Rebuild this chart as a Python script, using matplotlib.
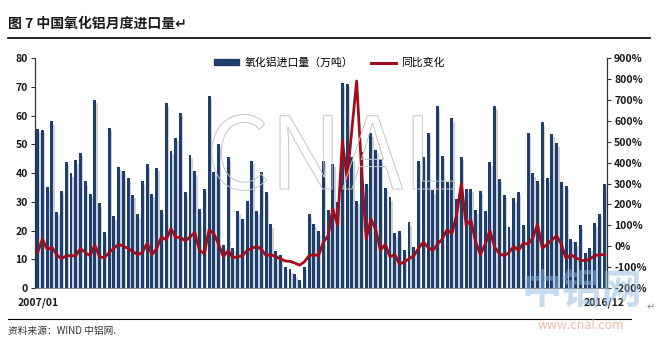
import numpy as np
import matplotlib
matplotlib.use("Agg")
import matplotlib.pyplot as plt
import matplotlib.patheffects as pe
from matplotlib.patches import Patch
from matplotlib.lines import Line2D
from matplotlib.ticker import FuncFormatter

plt.rcParams['font.family'] = ['Noto Sans CJK SC', 'DejaVu Sans']

# 2007/01 - 2016/12 monthly alumina imports (10k t)
imports = [55.3, 55, 35, 58, 26.5, 33.8, 43.8, 40, 44.5, 47, 37.2, 32.8,
           65.5, 29.5, 19.5, 55.8, 25, 42.2, 40.8, 38.2, 32.5, 25.6, 37.2, 43.3,
           32.8, 41.8, 27.2, 64.2, 47.8, 52.3, 61, 33.3, 46.3, 40.6, 27.5, 34.5,
           66.9, 40.5, 50.1, 15, 45.5, 14, 26.7, 24, 30.4, 44.3, 26.7, 40.3,
           33.5, 22.2, 12.8, 11.5, 7.5, 6.5, 5, 3, 7.5, 25.6, 22.3, 19.8,
           44.3, 27.2, 43.2, 29.9, 71.2, 71, 45.5, 30.4, 47.2, 36.2, 53.8, 48,
           44.9, 34.8, 31.6, 19.1, 19.8, 13.1, 22.9, 14.2, 44.3, 45.5, 54, 34,
           63.4, 46, 37, 59, 31, 45.7, 34.5, 34.5, 27, 33.9, 26.7, 43.8,
           63.4, 38, 32.5, 21.4, 31.3, 33.4, 22.1, 54, 39.9, 37.4, 57.6, 38.2,
           53.6, 50.3, 36.8, 35.6, 17.1, 16, 21.8, 12.2, 14, 22.6, 25.8, 36.2]

# year-on-year change (%)
yoy = [-30, 35, -15, -5, -40, -60, -45, -45, -45, -10, -30, -45,
       5, -50, -55, -30, -10, 10, 0, -10, -25, -40, -30, 15,
       -40, -10, 45, 30, 85, 40, 45, 25, 45, 65, -20, -35,
       80, 60, 10, -50, -20, -55, -50, -45, -20, -10, 0, -15,
       -45, -40, -50, -60, -70, -72, -80, -90, -75, -45, -40, -45,
       20, 50, 180, 100, 505, 320, 560, 790, 380, 35, 130, 80,
       -20, 10, -50, -40, -85, -75, -60, -45, -10, 20, -5, -20,
       10, 35, 80, 60, 150, 300, 100, 125, 20, -40, 10, 75,
       -5, -35, -45, -30, 0, -20, 15, 10, 40, 105, -10, 10,
       30, 50, 10, -60, -40, -55, -65, -70, -60, -45, -40, -40]

first_label = '2007/01'
last_label = '2016/12'

navy = '#1e3e6e'
red = '#a30d1b'

fig = plt.figure(figsize=(6.57, 3.41), dpi=100)
ax = fig.add_axes([0.053, 0.155, 0.871, 0.675])
ax2 = ax.twinx()

x = np.arange(len(imports))
vals = np.array(imports)
# soft shadow behind each bar
ax.bar(x + 0.3, np.maximum(vals - 1.2, 0), width=0.62, color='#cdd2da', zorder=1)
ax.bar(x, vals, width=0.62, color=navy, zorder=2)
ax.set_xlim(-0.6, len(imports) - 0.4)
ax.set_ylim(0, 80)
ax.set_yticks(range(0, 81, 10))
ax.set_xticks([])

ax2.plot(x, yoy, color=red, lw=2.0, solid_joinstyle='round')
ax2.set_ylim(-200, 900)
ax2.set_yticks(range(-200, 901, 100))
ax2.yaxis.set_major_formatter(FuncFormatter(lambda v, p: f'{int(v)}%'))

for a in (ax, ax2):
    a.spines['top'].set_visible(False)
    a.spines['left'].set_color('#333333')
    a.spines['right'].set_color('#333333')
    a.spines['bottom'].set_color('#888888')
    a.spines['left'].set_linewidth(0.8)
    a.spines['right'].set_linewidth(0.8)
    a.spines['bottom'].set_linewidth(0.6)
    a.tick_params(axis='y', labelsize=7.5, length=3, width=0.8, color='#333333', pad=2)
    for lab in a.get_yticklabels():
        lab.set_fontweight('bold')
        lab.set_color('#1a1a1a')

ax.text(0, -0.065, first_label, transform=ax.get_xaxis_transform(), ha='center', va='center',
        fontsize=7.5, fontweight='bold', color='#1a1a1a')
ax.text(len(imports) - 1, -0.065, last_label, transform=ax.get_xaxis_transform(), ha='center', va='center',
        fontsize=7.5, fontweight='bold', color='#1a1a1a')

handles = [Patch(color=navy), Line2D([], [], color=red, lw=2.2)]
ax.legend(handles, ['氧化铝进口量（万吨）', '同比变化'], ncol=2, loc='upper center',
          bbox_to_anchor=(0.515, 1.045), frameon=False, fontsize=7.8, handlelength=2.3,
          handleheight=0.4, columnspacing=1.6, handletextpad=0.5)

# watermarks
fig.text(0.505, 0.53, 'CNAL', fontsize=72, ha='center', va='center', color=(1, 1, 1, 0),
         fontweight='light', path_effects=[pe.withStroke(linewidth=0.7, foreground='#c4c4c4')])
fig.text(0.885, 0.145, '中铝网', fontsize=29, fontweight='bold', ha='center', va='center',
         color='#8fb8e0', alpha=0.5)
fig.text(0.885, 0.045, 'www.cnal.com', fontsize=9, ha='center', va='center', color='#f0a890', alpha=0.8)

# header and footer
fig.text(0.012, 0.93, '图 7 中国氧化铝月度进口量↵', fontsize=10, fontweight='bold', ha='left', va='center',
         color='#1a1a1a')
fig.add_artist(Line2D([0.012, 0.99], [0.888, 0.888], color='black', lw=1.2, transform=fig.transFigure))
fig.add_artist(Line2D([0.012, 0.96], [0.065, 0.065], color='black', lw=0.8, transform=fig.transFigure))
fig.text(0.012, 0.03, '资料来源：WIND 中铝网.', fontsize=7, style='italic', ha='left', va='center',
         color='#333333')
fig.text(0.99, 0.1, '↵', fontsize=7, ha='center', va='center', color='#888888')

plt.savefig('out.png', dpi=100)
